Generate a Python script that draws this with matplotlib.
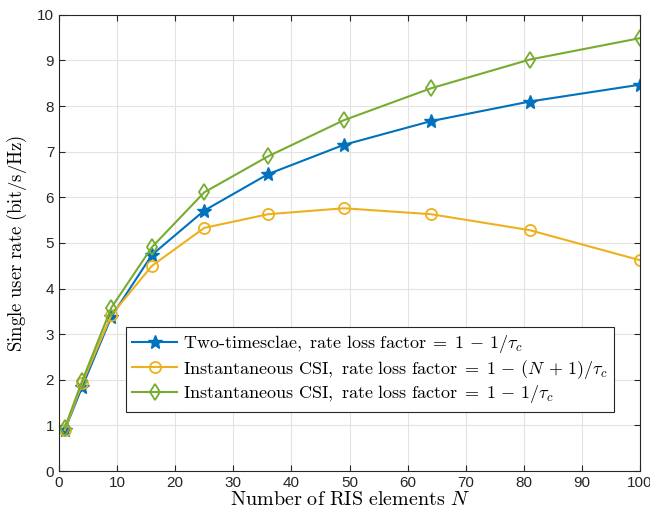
import matplotlib
matplotlib.use('Agg')
import matplotlib.pyplot as plt

N = [1, 4, 9, 16, 25, 36, 49, 64, 81, 100]
two_timescale = [0.90, 1.85, 3.38, 4.74, 5.71, 6.51, 7.15, 7.67, 8.10, 8.47]
inst_csi_n = [0.90, 1.93, 3.42, 4.50, 5.33, 5.63, 5.76, 5.63, 5.28, 4.62]
inst_csi_1 = [0.95, 1.98, 3.58, 4.91, 6.11, 6.90, 7.69, 8.39, 9.02, 9.49]

labels = [r'$\mathrm{Two\text{-}timesclae,\ rate\ loss\ factor}\;=\;1\,-\,1/\tau_c$',
          r'$\mathrm{Instantaneous\ CSI,\ rate\ loss\ factor}\;=\;1\,-\,(N\,+\,1)/\tau_c$',
          r'$\mathrm{Instantaneous\ CSI,\ rate\ loss\ factor}\;=\;1\,-\,1/\tau_c$']

plt.rcParams['mathtext.fontset'] = 'cm'
plt.rcParams['font.family'] = ['Liberation Sans', 'DejaVu Sans']

fig = plt.figure(figsize=(6.5, 5.16), dpi=100)
ax = fig.add_axes([0.0908, 0.0872, 0.894, 0.884])

ax.plot(N, two_timescale, '-*', color='#0072BD', lw=1.5, ms=10, mew=1.0, label=labels[0])
ax.plot(N, inst_csi_n, '-o', color='#EDB120', lw=1.5, ms=8, mfc='none', mew=1.3, label=labels[1])
ax.plot(N, inst_csi_1, '-d', color='#77AC30', lw=1.5, ms=8.5, mfc='none', mew=1.3, label=labels[2])

ax.set_xlim(0, 100)
ax.set_ylim(0, 10)
ax.set_xticks(range(0, 101, 10))
ax.set_yticks(range(0, 11))
ax.grid(True, color='#e3e3e3', lw=0.8)
ax.set_axisbelow(True)
ax.tick_params(direction='in', length=4, labelsize=11, colors='#262626', top=True, right=True)
for s in ax.spines.values():
    s.set_color('#262626')
    s.set_linewidth(0.8)

ax.set_xlabel(r'$\mathrm{Number\ of\ RIS\ elements}\ N$', fontsize=14.5, labelpad=0)
ax.set_ylabel(r'$\mathrm{Single\ user\ rate\ (bit/s/Hz)}$', fontsize=13.5, labelpad=6)

leg = ax.legend(loc='lower left', bbox_to_anchor=(0.115, 0.13), fontsize=13, fancybox=False,
                edgecolor='#262626', framealpha=1, borderpad=0.35, handlelength=2.5,
                handletextpad=0.3, labelspacing=0.15, borderaxespad=0)
leg.get_frame().set_linewidth(0.8)

fig.savefig('out.png', dpi=100)
